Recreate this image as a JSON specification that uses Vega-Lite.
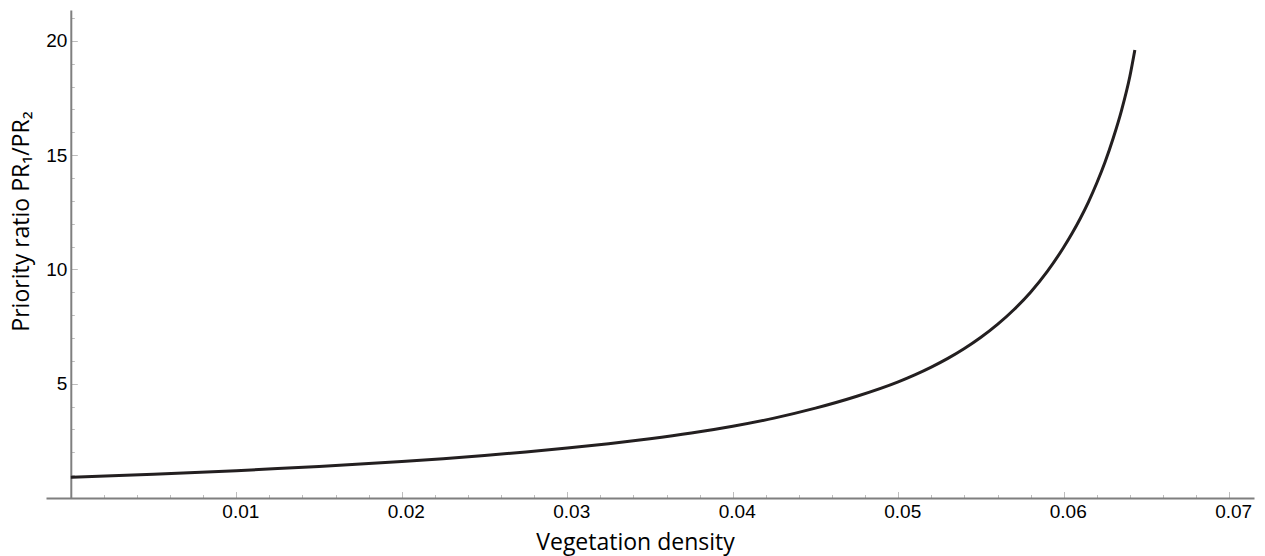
{
  "$schema": "https://vega.github.io/schema/vega-lite/v6.json",
  "width": 1208,
  "height": 488,
  "autosize": {"type": "none"},
  "padding": {"left": 46, "top": 10, "right": 11, "bottom": 58},
  "background": "white",
  "config": {"view": {"stroke": null}},
  "data": {
    "values": [
      {"density": 0, "ratio": 0.905},
      {"density": 0.0025, "ratio": 0.970},
      {"density": 0.005, "ratio": 1.041},
      {"density": 0.0075, "ratio": 1.116},
      {"density": 0.01, "ratio": 1.197},
      {"density": 0.0125, "ratio": 1.286},
      {"density": 0.015, "ratio": 1.382},
      {"density": 0.0175, "ratio": 1.486},
      {"density": 0.02, "ratio": 1.598},
      {"density": 0.0225, "ratio": 1.722},
      {"density": 0.025, "ratio": 1.861},
      {"density": 0.0275, "ratio": 2.016},
      {"density": 0.03, "ratio": 2.184},
      {"density": 0.0325, "ratio": 2.372},
      {"density": 0.035, "ratio": 2.589},
      {"density": 0.0375, "ratio": 2.840},
      {"density": 0.04, "ratio": 3.139},
      {"density": 0.0425, "ratio": 3.495},
      {"density": 0.045, "ratio": 3.930},
      {"density": 0.0475, "ratio": 4.450},
      {"density": 0.05, "ratio": 5.080},
      {"density": 0.051, "ratio": 5.385},
      {"density": 0.052, "ratio": 5.726},
      {"density": 0.053, "ratio": 6.107},
      {"density": 0.054, "ratio": 6.540},
      {"density": 0.055, "ratio": 7.032},
      {"density": 0.056, "ratio": 7.595},
      {"density": 0.057, "ratio": 8.248},
      {"density": 0.058, "ratio": 9.006},
      {"density": 0.059, "ratio": 9.904},
      {"density": 0.06, "ratio": 10.97},
      {"density": 0.0605, "ratio": 11.57},
      {"density": 0.061, "ratio": 12.23},
      {"density": 0.0615, "ratio": 12.96},
      {"density": 0.062, "ratio": 13.78},
      {"density": 0.0625, "ratio": 14.70},
      {"density": 0.063, "ratio": 15.76},
      {"density": 0.0635, "ratio": 16.97},
      {"density": 0.064, "ratio": 18.45},
      {"density": 0.0643, "ratio": 19.6}
    ]
  },
  "layer": [
    {
      "mark": {"type": "line", "strokeOpacity": 0},
      "encoding": {
        "x": {
          "field": "density", "type": "quantitative",
          "scale": {"domain": [-0.0015, 0.0715], "nice": false, "zero": false},
          "axis": {
            "orient": "bottom", "values": [0.002,0.004,0.006,0.008,0.012,0.014,0.016,0.018,0.022,0.024,0.026,0.028,0.032,0.034,0.036,0.038,0.042,0.044,0.046,0.048,0.052,0.054,0.056,0.058,0.062,0.064,0.066,0.068],
            "labels": false, "domain": false, "grid": false, "title": null,
            "tickSize": -3.5, "tickColor": "#bdbdbd", "tickWidth": 1
          }
        },
        "y": {
          "field": "ratio", "type": "quantitative",
          "scale": {"domain": [0, 21.35], "nice": false, "zero": false},
          "axis": {
            "orient": "left", "offset": -24.8,
            "values": [1,2,3,4,6,7,8,9,11,12,13,14,16,17,18,19,21],
            "labels": false, "domain": false, "grid": false, "title": null,
            "tickSize": -3.5, "tickColor": "#bdbdbd", "tickWidth": 1
          }
        }
      }
    },
    {
      "mark": {"type": "line", "color": "#231f20", "strokeWidth": 3, "interpolate": "monotone"},
      "encoding": {
        "x": {
          "field": "density", "type": "quantitative",
          "scale": {"domain": [-0.0015, 0.0715], "nice": false, "zero": false},
          "axis": {
            "orient": "bottom",
            "values": [0.01, 0.02, 0.03, 0.04, 0.05, 0.06, 0.07],
            "format": ".2f",
            "grid": false,
            "domainColor": "#7f7f7f", "domainWidth": 2,
            "tickSize": -6.5, "tickColor": "#bdbdbd", "tickWidth": 1,
            "labelFont": "Liberation Sans", "labelFontSize": 19, "labelColor": "#000000",
            "labelPadding": 10.5, "labelOffset": 4, "labelBaseline": "top",
            "title": "Vegetation density",
            "titleFont": "Open Sans", "titleFontSize": 23, "titleFontWeight": "normal", "titleColor": "#000000",
            "titleX": 589, "titleY": 51.8, "titleBaseline": "alphabetic"
          }
        },
        "y": {
          "field": "ratio", "type": "quantitative",
          "scale": {"domain": [0, 21.35], "nice": false, "zero": false},
          "axis": {
            "orient": "left", "offset": -24.8,
            "values": [5, 10, 15, 20],
            "grid": false,
            "domainColor": "#7f7f7f", "domainWidth": 2,
            "tickSize": -6.5, "tickColor": "#bdbdbd", "tickWidth": 1,
            "labelFont": "Liberation Sans", "labelFontSize": 19, "labelColor": "#000000",
            "labelPadding": 10.5,
            "title": "Priority ratio PR₁/PR₂",
            "titleFont": "Open Sans", "titleFontSize": 23, "titleFontWeight": "normal", "titleColor": "#000000",
            "titleX": -42.3, "titleY": 211, "titleBaseline": "alphabetic", "titleAngle": -90
          }
        }
      }
    }
  ],
  "resolve": {"axis": {"x": "independent", "y": "independent"}}
}
